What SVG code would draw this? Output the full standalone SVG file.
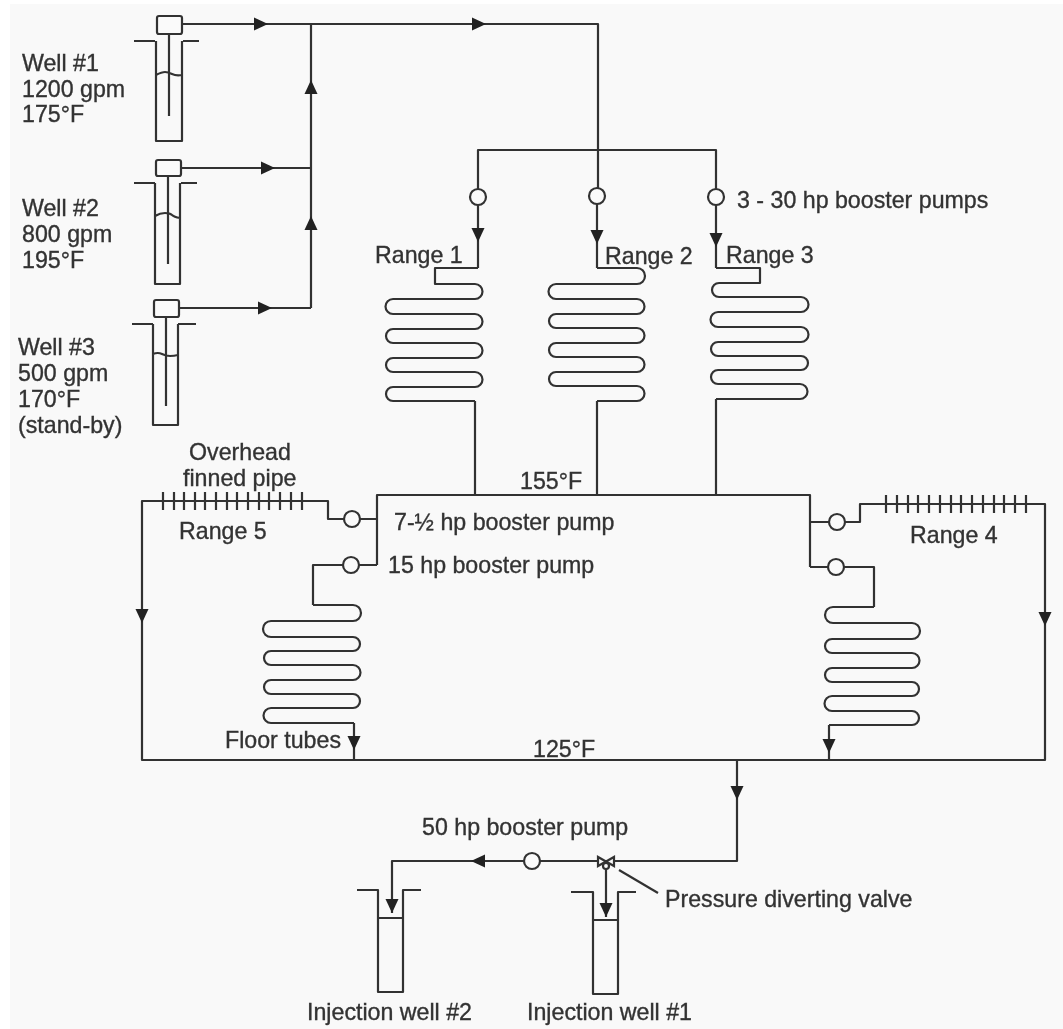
<svg xmlns="http://www.w3.org/2000/svg" xmlns:xlink="http://www.w3.org/1999/xlink" width="1063" height="1029" viewBox="0 0 1063 1029">
<style>
.p{fill:none;stroke:#333;stroke-width:2.2;stroke-linejoin:round}
.c{fill:#fafafa;stroke:#333;stroke-width:2.2}
.a{fill:#222;stroke:none}
text{font-family:"Liberation Sans",Arial,sans-serif;font-size:23.2px;fill:#333;stroke:#333;stroke-width:.35}
</style>
<defs>
<filter id="soft" x="0" y="0" width="1" height="1" filterUnits="objectBoundingBox"><feGaussianBlur stdDeviation="0.6"/></filter>
<polygon id="ah" class="a" points="0,0 -14,-6.500 -14,6.500"/>
</defs>
<rect width="1063" height="1029" fill="#fff"/>
<rect x="10" y="4" width="1053" height="1025" fill="#f9f9f9"/>
<g filter="url(#soft)">
<rect x="10" y="4" width="1053" height="1025" fill="#f9f9f9"/>
<g id="connectors">
<path class="p" d="M182 24H598V188M311 24V308M181 168H311M179 308H311"/>
<path class="p" d="M478 189V150H716V189"/>
<path class="p" d="M377 565V495H810V567"/>
<path class="p" d="M377 519H360M344 519H328V501H142V760H1045V504H860V522H845M829 522H810"/>
<path class="p" d="M377 565H359M343 565H313V605"/>
<path class="p" d="M810 567H828M844 567H874V607"/>
<path class="p" d="M354 723V760M829 725V760"/>
<path class="p" d="M737 760V861H614M598 861H540M524 861H392V913M606 868V917"/>
<path class="p" d="M475 401V495M597 401V495M716 399V495"/>
<path class="p" d="M478 205V268M597 204V268M716 205V268"/>
<use xlink:href="#ah" href="#ah" transform="translate(268,24)"/>
<use xlink:href="#ah" href="#ah" transform="translate(486,24)"/>
<use xlink:href="#ah" href="#ah" transform="translate(275,168)"/>
<use xlink:href="#ah" href="#ah" transform="translate(272,308)"/>
<use xlink:href="#ah" href="#ah" transform="translate(311,80) rotate(-90)"/>
<use xlink:href="#ah" href="#ah" transform="translate(311,216) rotate(-90)"/>
<use xlink:href="#ah" href="#ah" transform="translate(478,242) rotate(90)"/>
<use xlink:href="#ah" href="#ah" transform="translate(597,244) rotate(90)"/>
<use xlink:href="#ah" href="#ah" transform="translate(716,247) rotate(90)"/>
<use xlink:href="#ah" href="#ah" transform="translate(142,623) rotate(90)"/>
<use xlink:href="#ah" href="#ah" transform="translate(1045,626) rotate(90)"/>
<use xlink:href="#ah" href="#ah" transform="translate(354,750) rotate(90)"/>
<use xlink:href="#ah" href="#ah" transform="translate(829,753) rotate(90)"/>
<use xlink:href="#ah" href="#ah" transform="translate(737,800) rotate(90)"/>
<use xlink:href="#ah" href="#ah" transform="translate(471,861) rotate(180)"/>
<use xlink:href="#ah" href="#ah" transform="translate(392,913) rotate(90)"/>
<use xlink:href="#ah" href="#ah" transform="translate(606,917) rotate(90)"/>
<path class="p" d="M619 870L658 893"/>
</g>
<g id="well-1">
<rect class="c" x="157" y="16" width="25" height="18" rx="2"/>
<path class="p" d="M134 41H155M183 41H199M156 41V141H182V41M169 34V116M156 75Q162 72 165 72T172 74T182 75"/>
<text x="22" y="71">Well #1</text><text x="22" y="97">1200 gpm</text><text x="22" y="122">175°F</text>
</g>
<g id="well-2">
<rect class="c" x="156" y="160" width="25" height="16" rx="2"/>
<path class="p" d="M134 183H155M181 183H197M155 183V284H180V183M168 176V264M155 216Q160 213 165 213T172 215T180 218"/>
<text x="22" y="216">Well #2</text><text x="22" y="242">800 gpm</text><text x="22" y="268">195°F</text>
</g>
<g id="well-3">
<rect class="c" x="154" y="300" width="25" height="17" rx="2"/>
<path class="p" d="M132 324H153M178 324H196M153 324V425H178V324M166 317V406M153 354Q158 352 162 354T170 356T178 355"/>
<text x="18" y="355">Well #3</text><text x="18" y="381">500 gpm</text><text x="18" y="407">170°F</text><text x="18" y="433">(stand-by)</text>
</g>
<g id="range-1">
<path class="p" d="M478 268H435V284H475A7.500 7.500 0 0 1 475 299H393A7.500 7.500 0 0 0 393 314H475A7.500 7.500 0 0 1 475 329H393A7 7 0 0 0 393 343H475A7.500 7.500 0 0 1 475 358H393A7 7 0 0 0 393 372H475A7.500 7.500 0 0 1 475 387H393A7 7 0 0 0 393 401H475"/>
<circle class="c" cx="478" cy="197" r="8"/>
<text x="375" y="263">Range 1</text>
</g>
<g id="range-2">
<path class="p" d="M597 268H637A8 8 0 0 1 637 284H556A7.500 7.500 0 0 0 556 299H637A7.500 7.500 0 0 1 637 314H556A7 7 0 0 0 556 328H637A7.500 7.500 0 0 1 637 343H556A7 7 0 0 0 556 357H637A7.500 7.500 0 0 1 637 372H556A7 7 0 0 0 556 386H637A7.500 7.500 0 0 1 637 401H597"/>
<circle class="c" cx="597" cy="196" r="8"/>
<text x="605" y="264">Range 2</text>
</g>
<g id="range-3">
<path class="p" d="M716 268H760V283H719A7 7 0 0 0 719 297H801A7.500 7.500 0 0 1 801 312H718A7.500 7.500 0 0 0 718 327H801A7.500 7.500 0 0 1 801 342H718A7 7 0 0 0 718 356H801A7 7 0 0 1 801 370H718A7 7 0 0 0 718 384H800A7.500 7.500 0 0 1 800 399H716"/>
<circle class="c" cx="716" cy="197" r="8"/>
<text x="726" y="263">Range 3</text>
<text x="737" y="208">3 - 30 hp booster pumps</text>
</g>
<g id="range-5">
<path class="p" d="M163 492V510M174 492V510M184 492V510M195 492V510M205 492V510M216 492V510M227 492V510M237 492V510M248 492V510M259 492V510M269 492V510M280 492V510M291 492V510M302 492V510"/>
<circle class="c" cx="352" cy="519" r="8"/>
<text x="189" y="460">Overhead</text><text x="183" y="486">finned pipe</text><text x="179" y="539">Range 5</text>
<text x="394" y="530">7-½ hp booster pump</text>
</g>
<g id="floor-tubes">
<path class="p" d="M313 605H353A8 8 0 0 1 353 621H271A8 8 0 0 0 271 637H353A7 7 0 0 1 353 651H271A7 7 0 0 0 271 665H353A7.500 7.500 0 0 1 353 680H271A7 7 0 0 0 271 694H353A7 7 0 0 1 353 708H271A7.500 7.500 0 0 0 271 723H354"/>
<circle class="c" cx="351" cy="565" r="8"/>
<text x="388" y="573">15 hp booster pump</text><text x="225" y="748">Floor tubes</text>
</g>
<g id="range-4">
<path class="p" d="M886 495V513M897 495V513M908 495V513M918 495V513M929 495V513M940 495V513M951 495V513M961 495V513M972 495V513M983 495V513M994 495V513M1004 495V513M1015 495V513M1026 495V513"/>
<circle class="c" cx="837" cy="522" r="8"/>
<text x="910" y="543">Range 4</text>
</g>
<g id="floor-tubes-right">
<path class="p" d="M874 607H833A8 8 0 0 0 833 623H912A8 8 0 0 1 912 639H832A7 7 0 0 0 832 653H912A7.500 7.500 0 0 1 912 668H832A7 7 0 0 0 832 682H912A7 7 0 0 1 912 696H832A7.500 7.500 0 0 0 832 711H912A7 7 0 0 1 912 725H829"/>
<circle class="c" cx="836" cy="567" r="8"/>
</g>
<g id="pump-50">
<circle class="c" cx="532" cy="861" r="8"/>
<text x="422" y="835">50 hp booster pump</text>
</g>
<g id="valve">
<path class="c" d="M598 857V866L606 861.500ZM614 857V866L606 861.500Z"/>
<circle class="c" cx="606" cy="866" r="3"/>
<text x="665" y="907">Pressure diverting valve</text>
</g>
<g id="injection-well-2">
<path class="p" d="M357 890H378V992H403V890H421M378 918H403"/>
<text x="307" y="1020">Injection well #2</text>
</g>
<g id="injection-well-1">
<path class="p" d="M571 892H593V994H618V892H636M593 920H618"/>
<text x="527" y="1020">Injection well #1</text>
</g>
<g id="temps"><text x="520" y="489">155°F</text><text x="533" y="757">125°F</text></g>
</g>
</svg>
